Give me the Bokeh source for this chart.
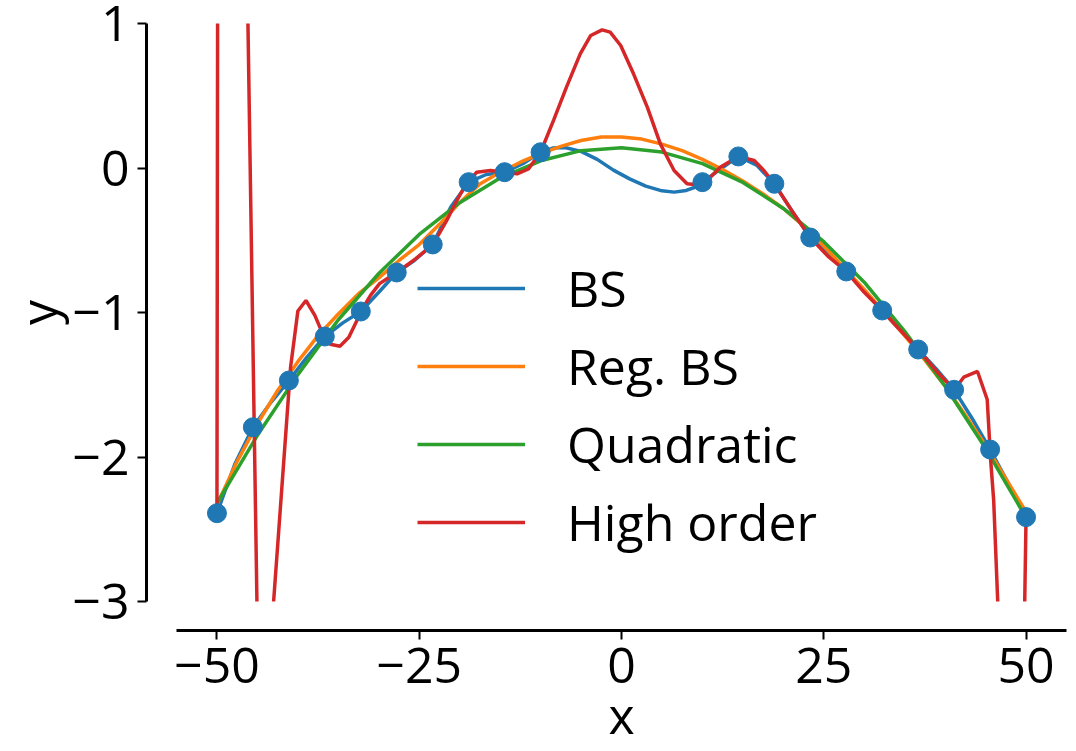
from bokeh.plotting import figure
from bokeh.models import Range1d, LinearAxis, FixedTicker, Legend, LegendItem
from bokeh.embed import file_html
from bokeh.resources import INLINE

# ---------------- data ----------------
pts_x = [-50, -45.56, -41.11, -36.67, -32.22, -27.78, -23.33, -18.89, -14.44, -10.0,
         10.0, 14.44, 18.89, 23.33, 27.78, 32.22, 36.67, 41.11, 45.56, 50]
pts_y = [-2.389, -1.794, -1.471, -1.166, -0.993, -0.723, -0.529, -0.098, -0.029, 0.109,
         -0.098, 0.080, -0.109, -0.481, -0.716, -0.986, -1.256, -1.535, -1.948, -2.416]

bs_x = [-50, -47.8, -45.56, -43.3, -41.11, -38.9, -36.67, -34.4, -32.22, -30, -27.78, -25.6,
        -23.33, -21.1, -18.89, -16.7, -14.44, -12.2, -10, -8.5, -7, -5, -3, -1, 1, 3, 5, 6.5,
        8, 9, 10, 12.2, 14.44, 16.7, 18.89, 21.1, 23.33, 25.6, 27.78, 30, 32.22, 34.4, 36.67,
        38.9, 41.11, 43.3, 45.56, 47.8, 50]
bs_y = [-2.389, -2.05, -1.794, -1.62, -1.471, -1.31, -1.166, -1.07, -0.993, -0.86, -0.723, -0.64,
        -0.529, -0.27, -0.098, -0.045, -0.029, 0.03, 0.109, 0.138, 0.142, 0.115, 0.06, -0.015,
        -0.075, -0.125, -0.158, -0.167, -0.155, -0.135, -0.098, -0.01, 0.080, 0.02, -0.109, -0.30,
        -0.481, -0.60, -0.716, -0.85, -0.986, -1.12, -1.256, -1.39, -1.535, -1.73, -1.948, -2.18,
        -2.416]

reg_x = [-50, -47.5, -45, -42.5, -40, -37.5, -35, -32.5, -30, -27.5, -25, -22.5, -20, -17.5,
         -15, -12.5, -10, -7.5, -5, -2.5, 0, 2.5, 5, 7.5, 10, 12.5, 15, 17.5, 20, 22.5, 25,
         27.5, 30, 32.5, 35, 37.5, 40, 42.5, 45, 47.5, 50]
reg_y = [-2.33, -2.03, -1.77, -1.54, -1.34, -1.16, -1.01, -0.87, -0.76, -0.64, -0.53, -0.39,
         -0.24, -0.11, -0.03, 0.04, 0.10, 0.15, 0.19, 0.215, 0.215, 0.20, 0.165, 0.12, 0.06,
         -0.01, -0.09, -0.18, -0.28, -0.40, -0.54, -0.69, -0.84, -1.00, -1.16, -1.33, -1.51,
         -1.71, -1.92, -2.15, -2.38]

quad_x = [-50, -45, -40, -35, -30, -25, -20, -15, -10, -5, 0, 5, 10, 15, 20, 25, 30, 35, 40, 45, 50]
quad_y = [-2.32, -1.85, -1.43, -1.05, -0.73, -0.46, -0.24, -0.07, 0.05, 0.12, 0.14, 0.11, 0.03,
          -0.10, -0.28, -0.51, -0.79, -1.13, -1.51, -1.94, -2.42]

high_x = [-50, -48.9, -47.8, -46.7, -44.8, -44.2, -40.9, -40.0, -39.0, -37.9, -37.1, -36.67,
          -36.0, -34.8, -33.7, -32.7, -32.22, -31.0, -29.9, -28.8, -27.78, -26.7, -25.5, -24.4,
          -23.33, -22.5, -21.6, -20.5, -19.5, -18.89, -17.9, -16.2, -14.44, -12.9, -11.5, -10,
          -8.4, -6.8, -5.1, -3.8, -2.4, -1.4, -0.1, 1.5, 3.2, 4.8, 6.5, 8.1, 10, 12.2, 14.44,
          16.4, 17.6, 18.89, 21.3, 23.33, 25.5, 27.78, 30, 32.22, 34.5, 36.67, 39.0, 41.11, 42.3,
          44.0, 45.2, 45.6, 46.0, 46.5, 47.0, 48.0, 49.0, 50]
high_y = [-2.389, 45, 20, 2.91, -3.93, -3.93, -1.378, -0.99, -0.917, -1.02, -1.125, -1.166,
          -1.22, -1.233, -1.171, -1.055, -0.993, -0.88, -0.80, -0.76, -0.723, -0.68, -0.63, -0.58,
          -0.529, -0.45, -0.363, -0.24, -0.14, -0.098, -0.029, -0.017, -0.029, -0.04, -0.006, 0.109,
          0.33, 0.56, 0.79, 0.917, 0.956, 0.94, 0.848, 0.65, 0.42, 0.167, -0.017, -0.109, -0.12,
          0.005, 0.08, 0.052, -0.017, -0.109, -0.317, -0.481, -0.61, -0.716, -0.86, -0.986, -1.125,
          -1.256, -1.41, -1.535, -1.448, -1.408, -1.602, -2.0, -2.30, -3.0, -4.0, -7.0, -6.0, -2.416]

x_ticks = [-50, -25, 0, 25, 50]
y_ticks = [-3, -2, -1, 0, 1]

FONT = "Open Sans"
FS = "50px"
LW = 3.5
BLUE, ORANGE, GREEN, RED = "#1f77b4", "#ff7f0e", "#2ca02c", "#d62728"

p = figure(width=1076, height=751, output_backend="svg", toolbar_location=None,
           x_range=Range1d(-55, 55), y_range=Range1d(-3, 1),
           x_axis_location=None, y_axis_location=None,
           min_border_left=176, min_border_right=10, min_border_top=23, min_border_bottom=150)
p.outline_line_color = None
p.background_fill_color = "white"
p.border_fill_color = "white"
for g in p.grid:
    g.visible = False


def spacer(n):
    # an empty axis that only reserves n pixels, to offset the real axis from the frame
    return LinearAxis(ticker=FixedTicker(ticks=[]), axis_line_color=None,
                      major_tick_line_color=None, minor_tick_line_color=None,
                      major_tick_out=0, major_tick_in=0, minor_tick_out=0, minor_tick_in=0,
                      major_label_text_font_size="0px", major_label_standoff=0,
                      axis_label="\u00a0", axis_label_text_font_size="1px",
                      axis_label_standoff=n - 1, axis_label_text_color=None)


def real_axis(ticks, label):
    ax = LinearAxis(ticker=FixedTicker(ticks=ticks), axis_label=label,
                    axis_line_width=3, axis_line_color="black",
                    major_tick_line_width=2, major_tick_line_color="black",
                    major_tick_out=9, major_tick_in=0, minor_tick_out=0, minor_tick_in=0,
                    minor_tick_line_color=None,
                    major_label_text_font=FONT, major_label_text_font_size=FS,
                    major_label_text_color="black",
                    axis_label_text_font=FONT, axis_label_text_font_size=FS,
                    axis_label_text_font_style="normal", axis_label_text_color="black",
                    major_label_overrides={t: (("\u2212" + str(abs(t))) if t < 0 else str(t)) for t in ticks})
    return ax


xax = real_axis(x_ticks, "x")
xax.major_label_standoff = 8
xax.axis_label_standoff = -5
yax = real_axis(y_ticks, "y")
yax.major_label_standoff = 8
yax.axis_label_standoff = -3

p.add_layout(spacer(26), "below")
p.add_layout(xax, "below")
p.add_layout(spacer(27), "left")
p.add_layout(yax, "left")

r_bs = p.line(bs_x, bs_y, color=BLUE, line_width=LW)
r_reg = p.line(reg_x, reg_y, color=ORANGE, line_width=LW)
r_quad = p.line(quad_x, quad_y, color=GREEN, line_width=LW)
r_high = p.line(high_x, high_y, color=RED, line_width=LW)
p.scatter(pts_x, pts_y, size=19, color=BLUE)

legend = Legend(items=[LegendItem(label="BS", renderers=[r_bs]),
                       LegendItem(label="Reg. BS", renderers=[r_reg]),
                       LegendItem(label="Quadratic", renderers=[r_quad]),
                       LegendItem(label="High order", renderers=[r_high])],
                location=(241, 45), border_line_color=None, background_fill_alpha=0,
                label_text_font=FONT, label_text_font_size=FS, label_text_color="black",
                glyph_width=108, glyph_height=60, label_height=60, spacing=10,
                padding=0, margin=0, label_standoff=42)
p.add_layout(legend)

open("out.html", "w").write(file_html(p, INLINE))
